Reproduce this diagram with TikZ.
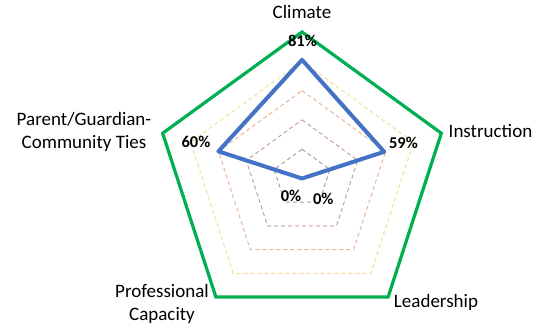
\documentclass[tikz,border=0pt]{standalone}
\usepackage{fontspec}
\setmainfont{Carlito}
\definecolor{xlgreen}{RGB}{0,176,80}
\definecolor{xlblue}{RGB}{68,114,196}
\definecolor{ringA}{RGB}{165,165,165}
\definecolor{ringB}{RGB}{200,160,160}
\definecolor{ringC}{RGB}{236,182,150}
\definecolor{ringD}{RGB}{246,222,150}
\tikzset{
  gridring/.style={line width=1pt, dash pattern=on 4pt off 3pt},
  outerring/.style={xlgreen, line width=3.2pt, line join=miter},
  series/.style={xlblue, line width=4pt, line join=round},
  cat/.style={font=\fontsize{19}{23}\selectfont, align=center, inner sep=0pt},
  pct/.style={font=\fontsize{16.5}{18}\selectfont\bfseries, inner sep=0pt}
}
\begin{document}
\begin{tikzpicture}[x=1pt,y=-1pt]
\useasboundingbox[fill=white] (0,0) rectangle (543,328);
\coordinate (O) at (302,178.5);
\def\R{146.5}
% grid rings
\foreach \f/\c in {0.2/ringA,0.4/ringB,0.6/ringC,0.8/ringD}{
  \draw[gridring,\c]
    ([shift={(90:{\f*\R pt})}]O) -- ([shift={(18:{\f*\R pt})}]O) --
    ([shift={(-54:{\f*\R pt})}]O) -- ([shift={(-126:{\f*\R pt})}]O) --
    ([shift={(162:{\f*\R pt})}]O) -- cycle;
}
% outer ring
\coordinate (g1) at ([shift={(90:\R pt)}]O);
\coordinate (g2) at ([shift={(18:\R pt)}]O);
\coordinate (g3) at ([shift={(-54:\R pt)}]O);
\coordinate (g4) at ([shift={(-126:\R pt)}]O);
\coordinate (g5) at ([shift={(162:\R pt)}]O);
\draw[outerring] (g1) -- (g2) -- (g3) -- (g4) -- (g5) -- cycle;
% data
\coordinate (d1) at ([shift={(90:{0.81*\R pt})}]O);
\coordinate (d2) at ([shift={(18:{0.59*\R pt})}]O);
\coordinate (d3) at (O);
\coordinate (d4) at (O);
\coordinate (d5) at ([shift={(162:{0.60*\R pt})}]O);
\draw[series] (d1) -- (d2) -- (d3) -- (d4) -- (d5) -- cycle;
% value labels
\node[pct] (v1) at (302.5,41) {81\%};
\node[pct] (v2) at (403.5,143) {59\%};
\node[pct] (v3) at (323.3,199) {0\%};
\node[pct] (v4) at (291,195.7) {0\%};
\node[pct] (v5) at (196,141.7) {60\%};
% category labels
\node[cat] (c1) at (302,12) {Climate};
\node[cat] (c2) at (490.5,131) {Instruction};
\node[cat] (c3) at (436,302.5) {Leadership};
\node[cat] (c4) at (162,303.5) {Professional\\Capacity};
\node[cat] (c5) at (84,132) {Parent/Guardian-\\Community Ties};
\end{tikzpicture}
\end{document}
